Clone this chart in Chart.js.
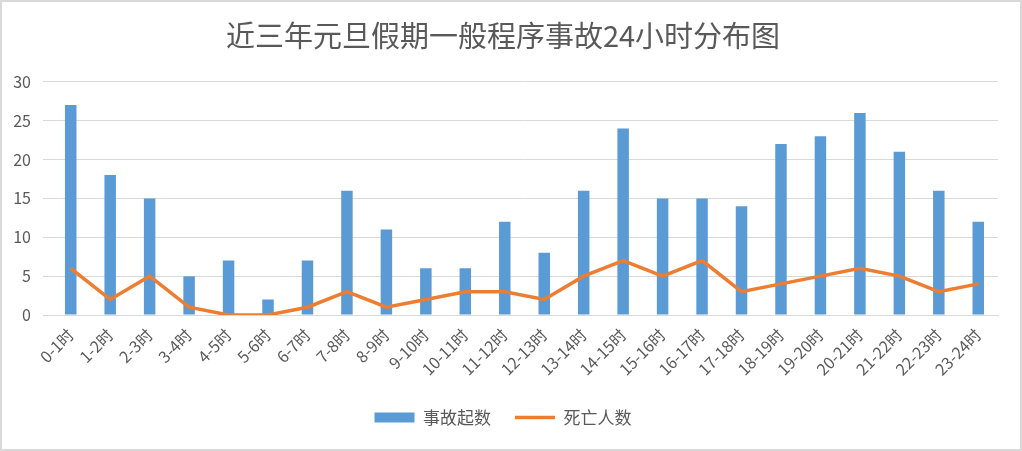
<!DOCTYPE html>
<html><head><meta charset="utf-8">
<script src="https://cdn.jsdelivr.net/npm/chart.js@4"></script>
<style>html,body{margin:0;padding:0;background:#fff}#w{width:1022px;height:451px}</style>
</head><body><div id="w"><canvas id="c"></canvas></div>
<script>
const categories = ["0-1时","1-2时","2-3时","3-4时","4-5时","5-6时","6-7时","7-8时","8-9时","9-10时","10-11时","11-12时","12-13时","13-14时","14-15时","15-16时","16-17时","17-18时","18-19时","19-20时","20-21时","21-22时","22-23时","23-24时"];
const accidents = [27,18,15,5,7,2,7,16,11,6,6,12,8,16,24,15,15,14,22,23,26,21,16,12];
const deaths = [6,2,5,1,0,0,1,3,1,2,3,3,2,5,7,5,7,3,4,5,6,5,3,4];
const yTicks = [0,5,10,15,20,25,30];
const FONT = "'Noto Sans CJK SC','Noto Sans',sans-serif";
const GREY = '#595959';
const borderPlugin = {id:'bd', afterDraw(ch){const c=ch.ctx;c.save();c.strokeStyle='#d9d9d9';c.lineWidth=2;c.strokeRect(1,1,ch.width-2,ch.height-2);c.restore();},
 beforeDraw(ch){const c=ch.ctx;c.save();c.fillStyle='#fff';c.fillRect(0,0,ch.width,ch.height);c.restore();}};
new Chart(document.getElementById('c'),{
 data:{labels:categories,datasets:[
  {type:'line',label:'死亡人数',data:deaths,borderColor:'#ED7D31',backgroundColor:'#ED7D31',borderWidth:3.5,pointRadius:0,tension:0,order:0},
  {type:'bar',label:'事故起数',data:accidents,backgroundColor:'#5B9BD5',categoryPercentage:0.56,barPercentage:0.52,order:1}
 ]},
 options:{responsive:true,maintainAspectRatio:false,animation:false,
  layout:{padding:{left:8,right:24,top:0,bottom:15}},
  plugins:{
   title:{display:true,text:'近三年元旦假期一般程序事故24小时分布图',color:GREY,font:{family:FONT,size:29,weight:'normal'},padding:{top:19,bottom:28}},
   legend:{position:'bottom',reverse:true,labels:{usePointStyle:true,pointStyleWidth:40,boxHeight:10,color:GREY,font:{family:FONT,size:17},padding:24,
     generateLabels(ch){const d=ch.data.datasets;return [
       {text:d[0].label,fillStyle:'#ED7D31',strokeStyle:'#ED7D31',lineWidth:3.5,pointStyle:'line',datasetIndex:0,fontColor:GREY},
       {text:d[1].label,fillStyle:'#5B9BD5',strokeStyle:'#5B9BD5',lineWidth:0,pointStyle:'rect',datasetIndex:1,fontColor:GREY}];}}},
   tooltip:{enabled:false}
  },
  scales:{
   x:{grid:{display:false},border:{color:'#d9d9d9'},ticks:{color:GREY,font:{family:FONT,size:16},minRotation:45,maxRotation:45,autoSkip:false,padding:2},
      afterFit(s){s.height=70;}},
   y:{min:0,max:30,afterBuildTicks(s){s.ticks=yTicks.map(v=>({value:v}));},grid:{color:'#d9d9d9'},border:{display:false},
      ticks:{color:GREY,font:{family:FONT,size:16},padding:12},afterFit(s){s.width=43;}}
  }
 },
 plugins:[borderPlugin]
});
</script></body></html>
